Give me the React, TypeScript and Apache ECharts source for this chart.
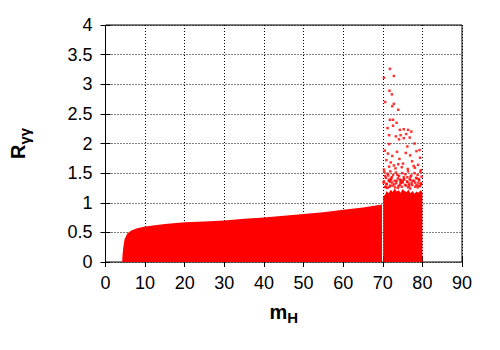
import React, { useEffect, useRef } from "react";
import * as echarts from "echarts";

// x axis: m_H, y axis: R_γγ
const xTicks = [0, 10, 20, 30, 40, 50, 60, 70, 80, 90];
const yTicks = [0, 0.5, 1, 1.5, 2, 2.5, 3, 3.5, 4];

// Upper envelope of the densely filled low-mass band (m_H, R_γγ)
const bandM = [4.2, 4.3, 4.5, 4.8, 5.5, 6.5, 8, 10, 15, 20, 25, 30, 35, 40, 45, 50, 55, 60, 65, 69.8];
const bandTop = [0, 0.12, 0.25, 0.38, 0.48, 0.53, 0.57, 0.6, 0.64, 0.67, 0.685, 0.7, 0.73, 0.75, 0.78, 0.81, 0.84, 0.88, 0.92, 0.97];

// Upper envelope of the dense block between 70 and 80
const blockM = [70.1, 70.1, 70.6, 71, 71.5, 72, 72.5, 73, 73.5, 74, 74.5, 75, 75.5, 76, 76.5, 77, 77.5, 78, 78.5, 79, 79.5, 80, 80];
const blockTop = [0, 1.1, 1.14, 1.2, 1.16, 1.22, 1.18, 1.24, 1.19, 1.21, 1.17, 1.23, 1.2, 1.18, 1.22, 1.16, 1.2, 1.15, 1.19, 1.17, 1.21, 1.18, 0];

// Individually visible points above the dense block
const sparseM = [
  70.3, 70.9, 71.5, 71.9, 72.4, 72.9, 73.5, 74.0, 74.5, 75.0, 75.6, 76.2, 76.7, 77.3, 77.9, 78.5, 79.0, 79.6,
  70.6, 71.2, 73.1, 74.8, 76.4, 78.2, 79.4, 72.1, 75.3, 77.0, 70.8, 73.8, 76.9, 78.8, 74.3, 71.7,
  70.4, 71.2, 71.9, 72.6, 73.3, 74.1, 74.9, 75.7, 76.4, 77.2, 78.0, 78.8, 79.5,
  70.8, 71.6, 72.3, 73.0, 73.8, 74.6, 75.3, 76.1, 76.8, 77.6, 78.4, 79.2, 79.8,
  70.2, 71.0, 71.8, 72.5, 73.4, 74.3, 75.0, 75.9, 76.6, 77.4, 78.2, 79.0, 79.7,
  70.6, 72.1, 73.7, 75.4, 77.0, 78.6, 71.4, 74.5, 76.2, 79.1,
  70.5, 71.3, 72.4, 73.6, 75.8, 76.9, 78.5, 79.4, 70.9, 72.0, 74.2, 75.1, 77.4, 78.9,
  71.6, 73.2, 74.8, 76.3, 78.1, 79.6, 70.3, 72.8, 73.9, 77.8,
  71.8, 72.8, 70.3, 71.7, 72.3, 70.6, 72.8, 72.4, 73.9, 71.8, 72.6, 73.5, 72.6, 71.2,
  74.3, 75.3, 76.4, 77.2, 71.6, 73.3, 74.5, 75.9, 76.8, 74.1, 75.3, 78.0, 71.6, 76.2, 79.3
];
const sparseR = [
  1.36, 1.32, 1.37, 1.29, 1.34, 1.31, 1.37, 1.28, 1.33, 1.36, 1.30, 1.35, 1.29, 1.33, 1.37, 1.30, 1.34, 1.31,
  1.27, 1.25, 1.26, 1.27, 1.26, 1.27, 1.28, 1.38, 1.39, 1.38, 1.26, 1.25, 1.24, 1.26, 1.39, 1.27,
  1.52, 1.49, 1.53, 1.47, 1.51, 1.45, 1.50, 1.48, 1.53, 1.46, 1.50, 1.47, 1.52,
  1.42, 1.39, 1.43, 1.37, 1.41, 1.38, 1.43, 1.36, 1.40, 1.37, 1.42, 1.38, 1.44,
  1.34, 1.31, 1.35, 1.29, 1.33, 1.30, 1.34, 1.29, 1.32, 1.30, 1.34, 1.29, 1.33,
  1.45, 1.41, 1.47, 1.40, 1.44, 1.41, 1.46, 1.35, 1.43, 1.40,
  1.88, 1.83, 1.79, 1.86, 1.84, 1.80, 1.87, 1.76, 1.72, 1.68, 1.74, 1.66, 1.70, 1.64,
  1.61, 1.58, 1.60, 1.57, 1.59, 1.55, 1.56, 1.63, 1.65, 1.62,
  3.26, 3.14, 3.11, 2.89, 2.83, 2.70, 2.67, 2.63, 2.57, 2.40, 2.40, 2.35, 2.30, 2.26,
  2.23, 2.24, 2.23, 2.20, 2.14, 2.12, 2.14, 2.16, 2.10, 2.07, 2.09, 2.00, 1.99, 1.95, 1.89
];

const FONT = "Liberation Sans";
const RED = "#ff0000";

export default function App() {
  const ref = useRef<HTMLDivElement>(null);
  useEffect(() => {
    document.body.style.margin = "0";
    if (!ref.current) return;
    const chart = echarts.init(ref.current, undefined, { renderer: "svg" });
    const band = bandM.map((m, i) => [m, bandTop[i]]);
    const block = blockM.map((m, i) => [m, blockTop[i]]);
    const sparse = sparseM.map((m, i) => [m, sparseR[i]]);
    const gridLine = { show: true, lineStyle: { color: "#000", width: 1, type: [1, 2] as any } };
    const tick = { show: true, inside: true, length: 5, lineStyle: { color: "#000" } };
    const rich = {
      b: { fontFamily: FONT, fontSize: 20, fontWeight: "bold", color: "#000" },
      s: { fontFamily: FONT, fontSize: 15, fontWeight: "bold", color: "#000", padding: [12, 0, 0, 0] },
    };
    chart.setOption({
      animation: false,
      backgroundColor: "#fff",
      grid: { left: 102, right: 38, top: 25, bottom: 88, show: true, borderColor: "#000", borderWidth: 1, backgroundColor: "transparent" },
      xAxis: [
        {
          type: "value", min: xTicks[0], max: xTicks[xTicks.length - 1], interval: 10,
          axisLine: { show: false }, axisTick: tick,
          axisLabel: { color: "#000", fontFamily: FONT, fontSize: 18, margin: 12 },
          splitLine: gridLine,
          name: "{b|m}{s|H}", nameLocation: "middle", nameGap: 36,
          nameTextStyle: { rich },
        },
        {
          type: "value", position: "top", min: 0, max: 90, interval: 10,
          axisLine: { show: false }, axisLabel: { show: false }, splitLine: { show: false }, axisTick: tick,
        },
      ],
      yAxis: [
        {
          type: "value", min: yTicks[0], max: yTicks[yTicks.length - 1], interval: 0.5,
          axisLine: { show: false }, axisTick: tick,
          axisLabel: { color: "#000", fontFamily: FONT, fontSize: 18, margin: 13 },
          splitLine: gridLine,
          name: "{b|R}{s|γγ}", nameLocation: "middle", nameGap: 74, nameRotate: 90,
          nameTextStyle: { rich },
        },
        {
          type: "value", position: "right", min: 0, max: 4, interval: 0.5,
          axisLine: { show: false }, axisLabel: { show: false }, splitLine: { show: false }, axisTick: tick,
        },
      ],
      series: [
        {
          type: "line", data: band, showSymbol: false, symbol: "none",
          lineStyle: { width: 0 }, areaStyle: { color: RED, opacity: 1 }, z: 3,
        },
        {
          type: "line", data: block, showSymbol: false, symbol: "none",
          lineStyle: { width: 0 }, areaStyle: { color: RED, opacity: 1 }, z: 3,
        },
        {
          type: "scatter", data: sparse, symbol: "rect", symbolSize: 2.5,
          itemStyle: { color: RED }, z: 3,
        },
      ],
    });
    return () => chart.dispose();
  }, []);
  return <div ref={ref} style={{ width: 500, height: 350 }} />;
}
